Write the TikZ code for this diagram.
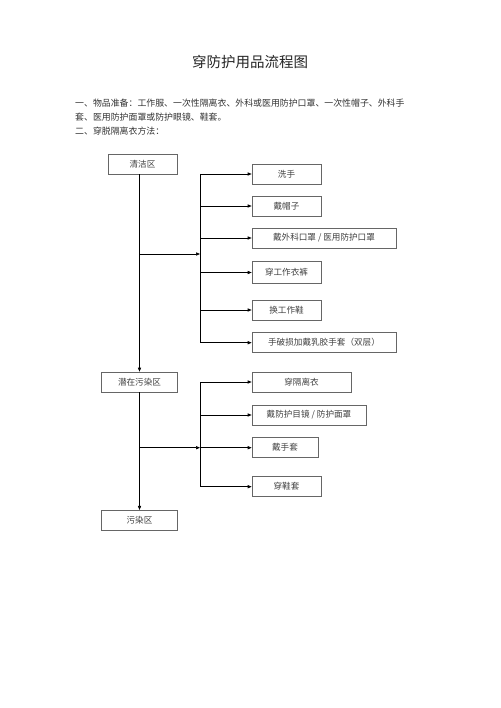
\documentclass[tikz,border=0pt]{standalone}
\usepackage{fontspec}
\setmainfont{Noto Sans CJK SC}
\usetikzlibrary{arrows.meta}
\tikzset{
  zone/.style={draw=black!60, line width=0.7pt, minimum height=20pt, inner sep=0pt,
    font=\fontsize{8.6}{10}\selectfont, text=black!75},
  line/.style={draw=black, line width=0.7pt},
  arr/.style={line, -{Triangle[length=4pt,width=3.2pt]}},
  para/.style={anchor=west, inner sep=0pt, font=\fontsize{8.9}{10}\selectfont, text=black!80}
}
\begin{document}
\begin{tikzpicture}[x=1pt,y=-1pt]
\useasboundingbox[fill=white] (0,0) rectangle (500,708);
\node[inner sep=0pt, font=\fontsize{14.5}{16}\selectfont, text=black!85] (title) at (250,62) {穿防护用品流程图};
\node[para] (l1) at (75,103) {一、物品准备：工作服、一次性隔离衣、外科或医用防护口罩、一次性帽子、外科手};
\node[para] (l2) at (75,117) {套、医用防护面罩或防护眼镜、鞋套。};
\node[para] (l3) at (75,131) {二、穿脱隔离衣方法：};

% zones
\node[zone, minimum width=69pt] (qj) at (142.5,164) {清洁区};
\node[zone, minimum width=75.6pt] (qz) at (139.5,382) {潜在污染区};
\node[zone, minimum width=75.6pt] (wr) at (139.5,520.3) {污染区};

% group 1
\node[zone, minimum width=69pt] (xs) at (286.5,174) {洗手};
\node[zone, minimum width=69pt] (dmz) at (286.5,206) {戴帽子};
\node[zone, minimum width=144pt] (dkz) at (324,238) {戴外科口罩 / 医用防护口罩};
\node[zone, minimum width=69pt, minimum height=22pt] (cgz) at (286.5,272.5) {穿工作衣裤};
\node[zone, minimum width=69pt] (hgx) at (286.5,310) {换工作鞋};
\node[zone, minimum width=144pt] (spy) at (324,342.7) {手破损加戴乳胶手套（双层）};

% group 2
\node[zone, minimum width=99pt] (cgly) at (301.5,382) {穿隔离衣};
\node[zone, minimum width=114pt] (dfh) at (309,415) {戴防护目镜 / 防护面罩};
\node[zone, minimum width=66pt] (dst) at (285,447.7) {戴手套};
\node[zone, minimum width=69pt] (cxt) at (286.5,486.7) {穿鞋套};

% junction coordinates
\coordinate (a1) at (140,254);
\coordinate (s1) at (200,254);
\coordinate (a2) at (140,447.7);
\coordinate (s2) at (200,447.7);

% main spine
\draw[arr] (qz.north |- qj.south) -- (qz.north);
\draw[arr] (qz.south) -- (wr.north);

% group 1 branches
\draw[arr] (a1) -- (s1);
\draw[line] (s1 |- xs.west) -- (s1 |- spy.west);
\foreach \n in {xs,dmz,dkz,cgz,hgx,spy}
  \draw[arr] (s1 |- \n.west) -- (\n.west);

% group 2 branches
\draw[arr] (a2) -- (s2);
\draw[line] (s2 |- cgly.west) -- (s2 |- cxt.west);
\foreach \n in {cgly,dfh,dst,cxt}
  \draw[arr] (s2 |- \n.west) -- (\n.west);
\end{tikzpicture}
\end{document}
